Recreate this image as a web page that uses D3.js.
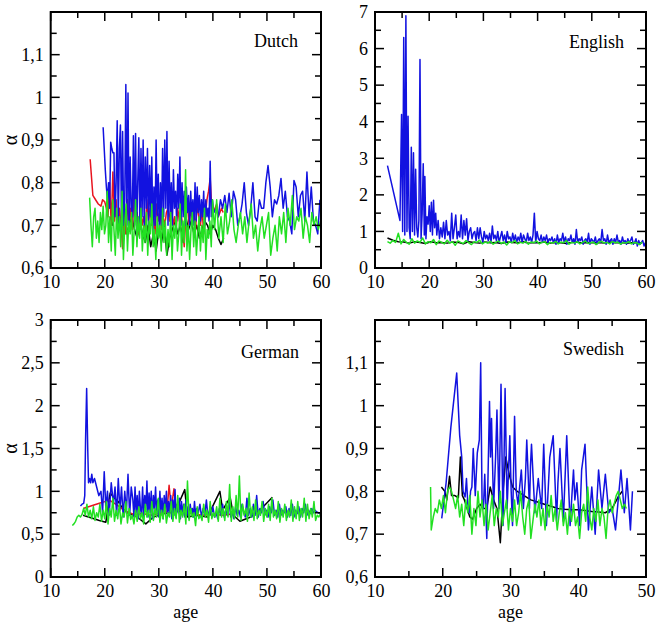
<!DOCTYPE html>
<html><head><meta charset="utf-8">
<script src="https://cdn.jsdelivr.net/npm/d3@7/dist/d3.min.js"></script>
<style>body{margin:0;background:#fff}svg{display:block}svg text{font-family:"Liberation Serif","DejaVu Serif",serif}</style>
</head><body><svg id="c" width="662" height="623"></svg>
<script>
// ---------- DATA ----------
const seriesNames = ["black","red","blue","green"];
const xTicksMain = [10,20,30,40,50,60];
const xTicksSwedish = [10,20,30,40,50];
const yTicksDutch = [0.6,0.7,0.8,0.9,1,1.1];
const yTicksEnglish = [0,1,2,3,4,5,6,7];
const yTicksGerman = [0,0.5,1,1.5,2,2.5,3];

// Dutch
const dutchBlueStart = 19.7, dutchBlueStep = 0.2;
const dutchBlueVals = [0.93,0.88,0.83,0.79,0.76,0.80,0.74,0.895,0.88,0.87,0.87,0.72,0.80,0.945,0.70,0.88,0.935,0.69,0.92,0.70,
 0.76,1.03,0.70,1.01,0.69,0.86,0.74,0.72,0.91,0.70,0.915,0.68,0.80,0.905,0.69,0.88,0.72,0.90,0.70,0.86,
 0.74,0.88,0.70,0.84,0.72,0.86,0.68,0.79,0.70,0.90,0.72,0.82,0.68,0.80,0.70,0.88,0.72,0.90,0.74,0.92,
 0.70,0.85,0.72,0.80,0.70,0.83,0.74,0.78,0.71,0.82,0.74,0.86,0.70,0.80,0.72,0.78,0.70,0.79,0.73,0.77,
 0.70,0.78,0.72,0.76,0.70,0.80,0.71,0.79,0.73,0.77,0.71,0.76,0.72,0.78,0.70,0.76,0.72,0.74,0.71,0.85,0.72,0.76];
const dutchBlue2Start = 40.2, dutchBlue2Step = 0.4;
const dutchBlue2Vals = [0.73,0.74,0.72,0.76,0.74,0.77,0.73,0.775,0.72,0.78,0.76,0.70,0.72,0.75,0.80,0.73,0.70,0.74,0.80,0.72,
 0.71,0.76,0.74,0.74,0.80,0.84,0.79,0.72,0.76,0.75,0.77,0.81,0.74,0.78,0.72,0.71,0.68,0.805,0.79,0.72,
 0.77,0.78,0.71,0.825,0.72,0.79,0.71,0.70,0.68,0.76];
const dutchRedHead = [[17.3,0.855],[17.8,0.77],[18.3,0.76],[18.8,0.75],[19.3,0.745],[19.6,0.76],[20.0,0.755]];
const dutchRedStart = 20.3, dutchRedStep = 0.3;
const dutchRedVals = [0.74,0.72,0.80,0.70,0.825,0.71,0.76,0.69,0.74,0.70,0.645,0.73,0.68,0.76,0.70,0.74,0.69,0.77,0.71,0.73,
 0.68,0.75,0.70,0.72,0.69,0.76,0.71,0.74,0.70,0.73,0.68,0.75,0.71,0.74,0.69,0.72,0.70,0.73,0.74,0.71,
 0.75,0.70,0.72,0.69,0.74,0.71,0.73,0.70,0.65,0.72,0.75,0.70,0.74,0.71,0.73,0.69,0.75,0.72,0.70,0.74,
 0.68,0.72,0.76,0.78,0.81,0.74,0.73,0.74,0.75,0.72,0.73,0.74,0.73];
const dutchGreenStart = 17.2, dutchGreenStep = 0.25;
const dutchGreenVals = [0.765,0.70,0.65,0.72,0.74,0.67,0.71,0.66,0.73,0.69,0.745,0.68,0.70,0.78,0.66,0.72,0.64,0.76,0.69,0.63,
 0.74,0.67,0.72,0.65,0.78,0.62,0.70,0.75,0.64,0.71,0.68,0.73,0.63,0.69,0.76,0.65,0.72,0.67,0.74,0.64,
 0.70,0.66,0.73,0.63,0.71,0.68,0.75,0.65,0.69,0.62,0.72,0.67,0.70,0.64,0.74,0.66,0.71,0.63,0.69,0.65,
 0.73,0.62,0.70,0.67,0.72,0.64,0.68,0.75,0.63,0.71,0.66,0.83,0.64,0.70,0.62,0.69,0.73,0.65,0.71,0.63,
 0.68,0.72,0.64,0.70,0.66,0.74,0.62,0.69,0.67,0.71,0.65,0.76];
const dutchGreen2Start = 40.3, dutchGreen2Step = 0.4;
const dutchGreen2Vals = [0.69,0.76,0.67,0.72,0.66,0.75,0.68,0.71,0.76,0.69,0.66,0.70,0.73,0.68,0.72,0.66,0.71,0.75,0.67,0.70,
 0.64,0.69,0.72,0.67,0.70,0.73,0.63,0.67,0.70,0.64,0.72,0.68,0.73,0.66,0.74,0.70,0.77,0.69,0.72,0.71,
 0.74,0.67,0.72,0.70,0.66,0.73,0.70,0.72,0.69,0.71];
const dutchBlackStart = 21, dutchBlackStep = 0.5;
const dutchBlackVals = [0.72,0.70,0.74,0.69,0.71,0.73,0.68,0.70,0.72,0.69,0.67,0.71,0.68,0.66,0.70,0.65,0.68,0.64,0.69,0.66,
 0.70,0.63,0.67,0.69,0.71,0.68,0.70,0.66,0.72,0.69,0.71,0.68,0.70,0.67,0.69,0.71,0.70,0.68,0.70,0.69,0.67,0.655,0.67];

// English
const englishBlueHead = [[12.3,2.8],[14.6,1.3],[14.9,4.2],[15.1,1.0],[15.3,6.3],[15.5,0.9],[15.7,6.9],[15.9,1.0],[16.1,4.15],[16.3,1.1],
 [16.5,0.8],[16.7,3.3],[16.9,1.0],[17.1,3.15],[17.3,0.9],[17.5,2.7],[17.7,1.1],[17.9,0.85],[18.1,1.3],[18.3,5.7],
 [18.5,0.8],[18.7,1.5],[18.9,2.85],[19.1,0.9],[19.2,2.5],[19.4,0.8],[19.6,1.4],[19.8,1.2],[20.0,1.7],[20.2,1.0],
 [20.4,1.8],[20.6,0.9],[20.8,1.85],[21.0,1.1],[21.2,1.5]];
const englishBlueStart = 21.4, englishBlueStep = 0.25;
const englishBlueVals = [0.9,1.3,0.8,1.1,0.85,1.25,0.8,1.3,0.9,1.0, 0.75,1.5,0.8,1.1,1.45,0.8,1.0,0.85,1.45,0.8,
 1.3,0.9,1.35,0.75,1.0,1.1,0.8,0.95,1.0,0.75, 1.1,0.8,1.1,0.85,0.7,1.0,0.8,0.9,0.75,0.95,
 0.7,1.15,0.8,0.9,0.75,1.0,0.7,0.85,1.0,0.75, 0.9,0.7,1.0,0.8,0.85,0.7,0.95,0.75,0.9,0.7,
 0.85,0.75,0.95,0.7,0.9,0.8,0.7,0.95,0.75,0.85, 0.7,0.9,1.5,0.7,1.0,0.8,0.75,0.9,0.7,0.85,
 0.75,0.9,0.7,0.8,0.75,0.85,0.7,0.8,0.65,0.9, 0.7,0.8,0.75,0.95,0.7,0.85,0.65,0.8,0.75,0.9,
 0.7,0.8,0.65,1.05,0.7,0.8,0.75,0.85,0.65,0.75, 0.8,0.7,0.95,0.65,0.8,0.75,0.7,0.85,0.65,0.75,
 0.8,0.7,1.05,0.75,0.8,0.65,0.9,0.7,0.75,0.8, 0.65,0.8,0.7,0.9,0.7,0.75,0.65,0.85,0.7,0.75,
 0.65,0.8,0.7,0.75,0.85,0.65,0.7,0.8,0.6,0.75, 0.65,0.7,0.75,0.6,0.7];
const englishGreenStart = 12.3, englishGreenStep = 0.5;
const englishGreenVals = [0.72,0.68,0.75,0.70,0.95,0.66,0.78,0.70,0.65,0.80, 0.68,0.74,0.70,0.82,0.66,0.72,0.69,0.78,0.64,0.74,
 0.70,0.66,0.76,0.68,0.72,0.62,0.74,0.70,0.67,0.75, 0.69,0.64,0.72,0.70,0.76,0.66,0.71,0.68,0.73,0.65,
 0.70,0.74,0.67,0.71,0.63,0.72,0.69,0.75,0.66,0.70, 0.68,0.73,0.65,0.71,0.69,0.74,0.66,0.70,0.72,0.64,
 0.70,0.68,0.73,0.66,0.71,0.69,0.75,0.65,0.70,0.68, 0.72,0.66,0.70,0.74,0.67,0.69,0.71,0.64,0.70,0.73,
 0.68,0.70,0.66,0.72,0.69,0.71,0.65,0.70,0.68,0.72, 0.66,0.70,0.69,0.64,0.71];
const englishBlackStart = 12.3, englishBlackStep = 1;
const englishBlackVals = [0.82,0.76,0.72,0.71,0.68,0.72,0.70,0.67,0.72,0.69,0.70,0.68,0.71,0.70,0.66,0.72,0.70,0.68,0.71,0.69,
 0.70,0.67,0.71,0.70,0.69,0.72,0.68,0.70,0.69,0.71,0.68,0.70,0.69,0.67,0.70,0.71,0.68,0.70,0.69,0.70,
 0.68,0.71,0.69,0.70,0.68,0.69,0.70,0.68];

// German
const germanBlueHead = [[15.5,0.83],[15.8,0.85],[16.1,0.86],[16.3,0.95],[16.45,1.6],[16.65,2.2],[16.85,1.5],[17.0,1.1],[17.2,1.15],[17.4,1.1],
 [17.6,1.2],[17.8,1.1],[18.1,1.15],[18.5,1.05],[18.9,0.95],[19.3,1.0],[19.6,0.75],[19.9,1.23],[20.2,0.8],[20.5,1.0],
 [20.8,0.72],[21.2,1.1],[21.6,0.85],[21.9,1.05],[22.2,0.72],[22.5,1.15],[22.8,0.78],[23.1,1.05],[23.4,0.7],[23.7,1.0],
 [24.0,0.75],[24.3,1.2],[24.6,0.72],[24.9,1.05]];
const germanBlueStart = 25.2, germanBlueStep = 0.2;
const germanBlueVals = [0.9,0.7,1.05,0.75,0.95,0.68,1.0,0.8,0.72,1.05, 0.7,0.95,0.78,1.12,0.7,0.98,0.75,1.0,0.68,0.95,
 0.8,1.05,0.72,0.9,0.7,1.0,0.75,0.92,0.68,0.95, 0.78,1.0,0.7,0.88,0.75,0.95,0.68,0.9,0.72,1.02,
 0.7,0.85,0.75,0.92,0.68,0.88,0.72,0.85,0.7,0.9, 0.72,0.82,0.68,0.85,0.75,0.8,0.7,0.88,0.72,0.8];
const germanBlue2Start = 37.3, germanBlue2Step = 0.3;
const germanBlue2Vals = [0.75,0.85,0.7,0.8,0.72,0.9,0.7,0.78,0.72,0.82, 0.7,0.75,0.68,0.8,0.72,0.85,0.7,0.78,0.72,0.88,
 0.7,0.75,0.68,0.82,0.72,0.78,0.7,0.85,0.75,0.7, 0.92,0.72,0.8,0.7,0.85,0.72,0.95,0.7,0.8,0.75,
 0.88,0.72,0.78,0.7,0.82,0.75,0.9,0.72,0.78,0.7, 0.85,0.72,0.78,0.75,0.82,0.7,0.8,0.72,0.85,0.7,
 0.78,0.74,0.82,0.7,0.8,0.75,0.85,0.72,0.78,0.74, 0.8,0.75,0.78,0.76,0.75,0.74];
const germanGreenStart = 14.0, germanGreenStep = 0.3;
const germanGreenVals = [0.60,0.62,0.65,0.70,0.72,0.70,0.73,0.80,0.72,0.85, 0.70,0.78,0.68,0.82,0.66,0.75,0.70,0.85,0.65,0.78,
 0.68,0.88,0.62,0.80,0.70,0.92,0.65,0.78,0.68,0.85, 0.62,0.75,0.70,0.88,0.63,0.80,0.67,0.72,0.62,0.78,
 0.65,0.82,0.68,0.75,0.62,0.85,0.70,0.78,0.64,0.88, 0.66,0.80,0.70,0.92,0.64,0.78,0.68,0.85,0.63,0.75,
 0.70,0.88,0.65,0.80,0.68,0.95,0.64,0.78,0.70,0.85, 0.62,1.12,0.66,0.80,0.70,0.75,0.60,0.82,0.68,0.72,
 0.66,0.85,0.70,0.78,0.64,0.88,0.68,0.75,0.70,0.82, 0.65,0.92,0.70,0.80,0.66,0.88,0.70,1.08,0.65,0.82,
 0.68,0.95,0.70,1.18,0.66,0.85,0.72,0.80,0.65,0.98, 0.70,0.82,0.66,0.90,0.68,0.78,0.72,0.88,0.65,0.80,
 0.70,0.85,0.66,0.92,0.70,0.78,0.68,0.88,0.64,0.80, 0.70,0.85,0.66,0.78,0.70,0.90,0.65,0.82,0.68,0.88,
 0.66,0.80,0.70,0.92,0.65,0.85,0.68,0.80,0.70,0.88, 0.66,0.72,0.70,0.74];
const germanRed = [[16,0.8],[17,0.82],[18,0.84],[19,0.86],[20,0.88],[20.8,0.9],[21.5,0.87],[22.5,0.83],[23.5,0.78],[24.5,0.75],
 [25.5,0.73],[27,0.74],[28.5,0.72],[30,0.74],[31.5,0.76],[31.9,1.07],[32.3,0.8],[32.8,1.03],[33.2,0.78],[34,0.76],
 [36,0.74],[38,0.72],[40,0.73],[42,0.72],[44,0.74]];
const germanBlack = [[16,0.72],[17,0.7],[18,0.68],[19,0.66],[20.2,0.64],[21,0.98],[21.8,0.92],[22.5,0.88],[23.3,0.8],[24.2,0.75],
 [26,0.7],[27.6,0.62],[29,0.7],[31,0.74],[33,0.76],[34.8,1.02],[35.3,0.7],[37,0.72],[39,0.7],[41.3,1.0],
 [41.8,0.78],[43.2,0.93],[43.8,0.72],[45,0.65],[47,0.7],[49,0.8],[51,0.93]];

// Swedish
const swedishBlue = [[19.85,0.737],[20.5,0.82],[21.2,0.95],[22.06,1.076],[22.5,0.93],[22.8,0.88],[23.0,0.80],[23.3,0.787],[23.5,0.83],[23.7,0.77],
 [23.9,0.75],[24.1,0.80],[24.3,0.81],[24.5,0.90],[24.8,0.79],[25.1,0.89],[25.4,0.92],[25.6,1.10],[25.8,0.78],[26.0,0.76],
 [26.2,0.84],[26.5,0.69],[26.9,1.01],[27.05,0.88],[27.2,0.97],[27.5,0.76],[27.8,0.88],[28.0,0.99],[28.3,0.76],[28.6,1.05],
 [28.9,0.72],[29.2,1.04],[29.5,0.76],[29.9,0.93],[30.1,0.80],[30.3,0.72],[30.6,0.975],[30.85,0.80],[31.1,0.77],[31.6,0.85],
 [31.9,0.76],[32.2,0.83],[32.4,0.92],[32.8,0.76],[32.95,0.86],[33.1,0.91],[33.6,0.75],[34.1,0.83],[34.3,0.80],[34.6,0.76],
 [34.9,0.91],[35.3,0.72],[35.8,0.88],[36.3,0.93],[36.8,0.73],[37.0,0.82],[37.3,0.90],[37.8,0.73],[38.3,0.93],[38.8,0.72],
 [39.1,0.80],[39.3,0.85],[39.5,0.78],[39.8,0.82],[40.2,0.72],[40.5,0.85],[41.0,0.91],[41.5,0.71],[42.0,0.81],[42.5,0.70],
 [43.0,0.85],[43.5,0.76],[44.0,0.84],[44.5,0.75],[45.0,0.76],[45.5,0.71],[46.3,0.85],[46.8,0.75],[47.2,0.83],[47.7,0.71],[48.0,0.80]];
const swedishBlack = [[19.8,0.81],[20.3,0.80],[20.6,0.78],[21.0,0.835],[21.3,0.79],[21.8,0.79],[22.3,0.785],[22.6,0.88],[22.9,0.79],[23.2,0.78],
 [23.6,0.76],[24.0,0.74],[24.4,0.735],[25,0.76],[25.5,0.77],[26,0.76],[26.5,0.76],[27,0.81],[27.5,0.78],[28,0.76],
 [28.5,0.68],[28.9,0.80],[29.3,0.88],[29.8,0.84],[30.3,0.81],[31,0.80],[32,0.79],[33,0.78],[34,0.775],[35,0.77],
 [36,0.765],[37,0.76],[38,0.758],[39,0.757],[40,0.757],[41,0.755],[42,0.753],[43,0.752],[44,0.75],[45,0.76],[46,0.79],[46.5,0.80]];
const swedishGreenHead = [[18.2,0.81]];
const swedishGreenStart = 18.3, swedishGreenStep = 0.3;
const swedishGreenVals = [0.71,0.74,0.76,0.75,0.78,0.76,0.79,0.75,0.80,0.81, 0.80,0.78,0.76,0.79,0.74,0.77,0.72,0.78,0.75,0.79,
 0.70,0.76,0.72,0.80,0.74,0.78,0.72,0.77,0.71,0.75, 0.79,0.72,0.76,0.74,0.80,0.72,0.75,0.78,0.71,0.76,
 0.73,0.78,0.72,0.75,0.80,0.74,0.70,0.76,0.78,0.69, 0.73,0.77,0.74,0.78,0.72,0.76,0.71,0.77,0.74,0.79,
 0.73,0.76,0.71,0.75,0.78,0.72,0.75,0.70,0.76,0.73, 0.77,0.72,0.74,0.69,0.75,0.77,0.73,0.81,0.74,0.71,
 0.76,0.73,0.78,0.72,0.76,0.74,0.69,0.76,0.78,0.75, 0.77,0.79,0.80,0.78,0.76,0.77,0.76];

// ---------- BUILD ----------
const seq = (start, step, vals) => vals.map((v,i)=>[start + i*step, v]);
const colors = {black:"#000000", red:"#e8141e", blue:"#1212e0", green:"#22e022"};
const fmt = v => String(v).replace(".", ",");

const panels = [
 {name:"Dutch", box:[50.7,321,12,268], xd:[10,60], yd:[0.6,1.2], xt:xTicksMain, xm:5, yt:yTicksDutch, ym:0.05, alpha:true, age:false, lblX:298, lblY:47,
  series:{black:seq(dutchBlackStart,dutchBlackStep,dutchBlackVals),
          red:dutchRedHead.concat(seq(dutchRedStart,dutchRedStep,dutchRedVals)),
          blue:seq(dutchBlueStart,dutchBlueStep,dutchBlueVals).concat(seq(dutchBlue2Start,dutchBlue2Step,dutchBlue2Vals)),
          green:seq(dutchGreenStart,dutchGreenStep,dutchGreenVals).concat(seq(dutchGreen2Start,dutchGreen2Step,dutchGreen2Vals))}},
 {name:"English", box:[375,646,12,268], xd:[10,60], yd:[0,7], xt:xTicksMain, xm:5, yt:yTicksEnglish, ym:0.5, alpha:false, age:false, lblX:624, lblY:48,
  series:{black:seq(englishBlackStart,englishBlackStep,englishBlackVals),
          red:[],
          blue:englishBlueHead.concat(seq(englishBlueStart,englishBlueStep,englishBlueVals)),
          green:seq(englishGreenStart,englishGreenStep,englishGreenVals)}},
 {name:"German", box:[50.7,321,320,577], xd:[10,60], yd:[0,3], xt:xTicksMain, xm:5, yt:yTicksGerman, ym:0.25, alpha:true, age:true, lblX:299, lblY:358,
  series:{black:germanBlack, red:germanRed,
          blue:germanBlueHead.concat(seq(germanBlueStart,germanBlueStep,germanBlueVals)).concat(seq(germanBlue2Start,germanBlue2Step,germanBlue2Vals)),
          green:seq(germanGreenStart,germanGreenStep,germanGreenVals)}},
 {name:"Swedish", box:[375,646,320,577], xd:[10,50], yd:[0.6,1.2], xt:xTicksSwedish, xm:5, yt:yTicksDutch, ym:0.05, alpha:false, age:true, lblX:624, lblY:355,
  series:{black:swedishBlack, red:[], blue:swedishBlue,
          green:swedishGreenHead.concat(seq(swedishGreenStart,swedishGreenStep,swedishGreenVals))}}
];

const svg = d3.select("#c");
const FONT = '"Liberation Serif","DejaVu Serif",serif';

panels.forEach((p,pi) => {
  const [x0,x1,y0,y1] = p.box;
  const x = d3.scaleLinear().domain(p.xd).range([x0,x1]);
  const y = d3.scaleLinear().domain(p.yd).range([y1,y0]);
  const g = svg.append("g");
  const clipId = "clip"+pi;
  g.append("clipPath").attr("id",clipId).append("rect")
    .attr("x",x0).attr("y",y0).attr("width",x1-x0).attr("height",y1-y0);

  const line = d3.line().x(d=>x(d[0])).y(d=>y(d[1]));
  const lines = g.append("g").attr("clip-path",`url(#${clipId})`);
  seriesNames.forEach(s => {
    const data = p.series[s];
    if (!data || !data.length) return;
    lines.append("path").datum(data).attr("d",line)
      .attr("fill","none").attr("stroke",colors[s]).attr("stroke-width",1.5)
      .attr("stroke-linejoin","round");
  });

  const xMinor = d3.range(p.xd[0], p.xd[1]+1e-9, p.xm);
  const yMinor = d3.range(0, Math.round((p.yd[1]-p.yd[0])/p.ym)+1).map(i => p.yd[0] + i*p.ym);
  const isMajorX = v => p.xt.some(t=>Math.abs(t-v)<1e-6);
  const majorYStep = p.yt[1]-p.yt[0];
  const isMajorY = v => Math.abs(Math.round((v-p.yd[0])/majorYStep)*majorYStep - (v-p.yd[0]))<1e-6;

  const tk = g.append("g").attr("stroke","#000").attr("stroke-width",1.5);
  xMinor.forEach(v => {
    const L = isMajorX(v) ? 9 : 6;
    tk.append("line").attr("x1",x(v)).attr("x2",x(v)).attr("y1",y1).attr("y2",y1-L);
    tk.append("line").attr("x1",x(v)).attr("x2",x(v)).attr("y1",y0).attr("y2",y0+L);
  });
  yMinor.forEach(v => {
    const L = isMajorY(v) ? 9 : 6;
    tk.append("line").attr("y1",y(v)).attr("y2",y(v)).attr("x1",x0).attr("x2",x0+L);
    tk.append("line").attr("y1",y(v)).attr("y2",y(v)).attr("x1",x1).attr("x2",x1-L);
  });

  g.append("rect").attr("x",x0).attr("y",y0).attr("width",x1-x0).attr("height",y1-y0)
    .attr("fill","none").attr("stroke","#000").attr("stroke-width",2);

  const xAxis = d3.axisBottom(x).tickValues(p.xt).tickSize(0).tickPadding(7).tickFormat(d=>fmt(d));
  const gx = g.append("g").attr("transform",`translate(0,${y1})`).call(xAxis);
  gx.attr("font-family",null).attr("font-size",null);
  gx.select(".domain").remove();
  gx.selectAll("text").style("font-family",FONT).style("font-size","18px").attr("fill","#000").attr("dy","0.71em");

  const yAxis = d3.axisLeft(y).tickValues(p.yt).tickSize(0).tickPadding(7).tickFormat(d=>fmt(d));
  const gy = g.append("g").attr("transform",`translate(${x0},0)`).call(yAxis);
  gy.attr("font-family",null).attr("font-size",null);
  gy.select(".domain").remove();
  gy.selectAll("text").style("font-family",FONT).style("font-size","18px").attr("fill","#000");

  g.append("text").attr("x",p.lblX).attr("y",p.lblY).attr("text-anchor","end")
    .style("font-family",FONT).style("font-size","18px").text(p.name);

  if (p.alpha) {
    g.append("text").attr("transform",`translate(17,${(y0+y1)/2}) rotate(-90)`)
      .attr("text-anchor","middle").style("font-family",FONT).style("font-size","20px").text("α");
  }
  if (p.age) {
    g.append("text").attr("x",(x0+x1)/2).attr("y",618).attr("text-anchor","middle")
      .style("font-family",FONT).style("font-size","18px").text("age");
  }
});
</script></body></html>
